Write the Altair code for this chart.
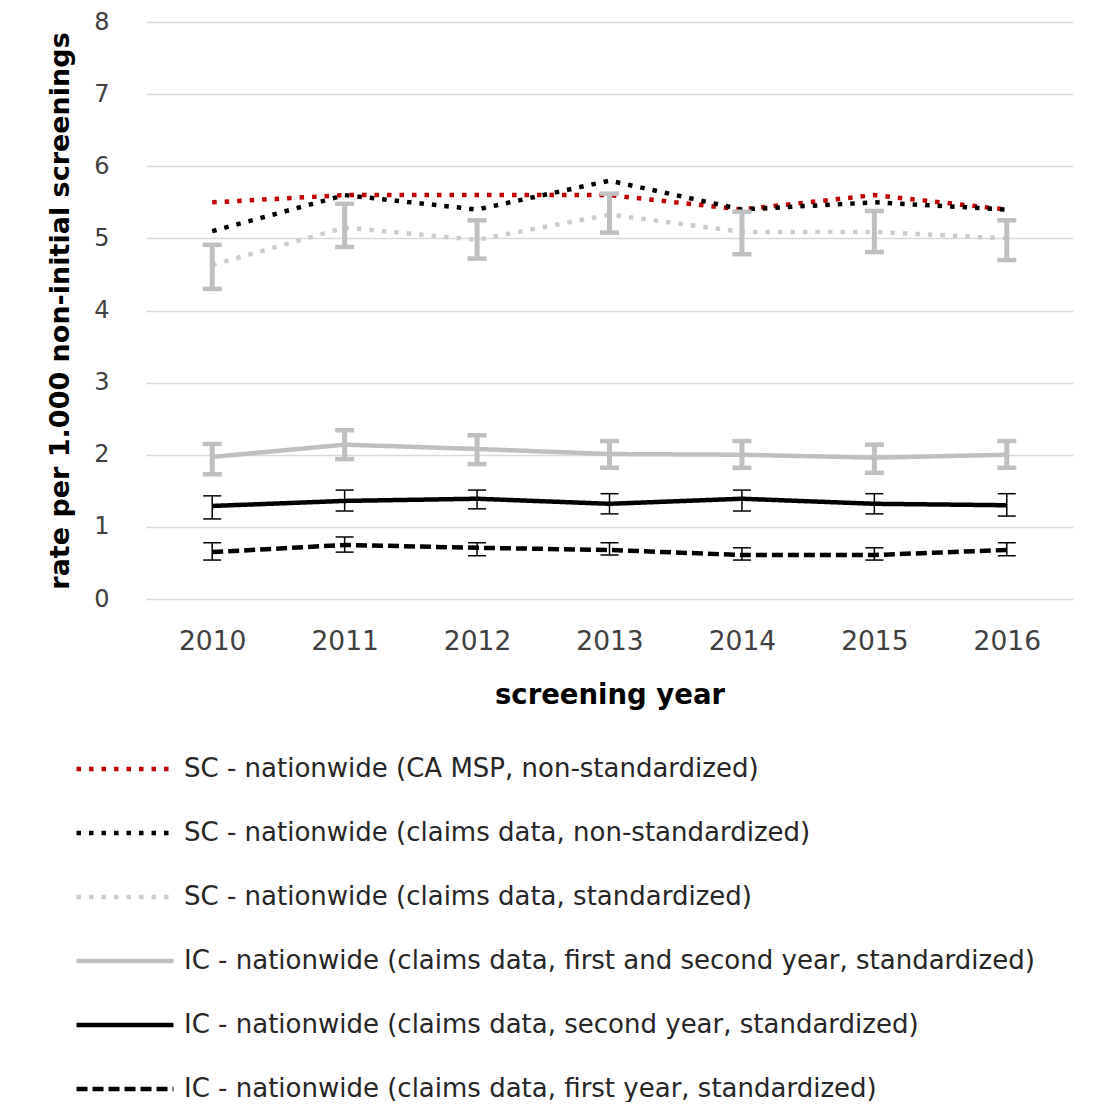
import altair as alt
import pandas as pd

years = ["2010", "2011", "2012", "2013", "2014", "2015", "2016"]
series_names = [
    "SC - nationwide (CA MSP, non-standardized)",
    "SC - nationwide (claims data, non-standardized)",
    "SC - nationwide (claims data, standardized)",
    "IC - nationwide (claims data, first and second year, standardized)",
    "IC - nationwide (claims data, second year, standardized)",
    "IC - nationwide (claims data, first year, standardized)",
]

sc_msp = [5.5, 5.6, 5.6, 5.6, 5.4, 5.6, 5.4]
sc_claims = [5.1, 5.6, 5.4, 5.8, 5.4, 5.5, 5.4]
sc_std = [4.63, 5.15, 4.98, 5.33, 5.09, 5.09, 5.0]
sc_std_lo = [4.30, 4.88, 4.72, 5.08, 4.78, 4.81, 4.70]
sc_std_hi = [4.91, 5.48, 5.25, 5.62, 5.37, 5.38, 5.25]
ic12 = [1.97, 2.14, 2.08, 2.01, 2.0, 1.96, 2.0]
ic12_lo = [1.73, 1.94, 1.87, 1.82, 1.82, 1.75, 1.82]
ic12_hi = [2.15, 2.34, 2.27, 2.19, 2.19, 2.14, 2.19]
ic2 = [1.29, 1.36, 1.39, 1.32, 1.39, 1.32, 1.30]
ic2_lo = [1.11, 1.22, 1.25, 1.18, 1.22, 1.18, 1.15]
ic2_hi = [1.43, 1.51, 1.51, 1.46, 1.51, 1.46, 1.46]
ic1 = [0.65, 0.75, 0.71, 0.68, 0.61, 0.61, 0.68]
ic1_lo = [0.54, 0.65, 0.60, 0.61, 0.54, 0.54, 0.60]
ic1_hi = [0.78, 0.86, 0.78, 0.78, 0.71, 0.71, 0.78]

y_ticks = [0, 1, 2, 3, 4, 5, 6, 7, 8]

rows = []
for name, vals in zip(series_names, [sc_msp, sc_claims, sc_std, ic12, ic2, ic1]):
    for yr, v in zip(years, vals):
        rows.append({"year": yr, "series": name, "rate": v})
lines_df = pd.DataFrame(rows)

err_rows = []
for name, los, his in [
    (series_names[2], sc_std_lo, sc_std_hi),
    (series_names[3], ic12_lo, ic12_hi),
    (series_names[4], ic2_lo, ic2_hi),
    (series_names[5], ic1_lo, ic1_hi),
]:
    for yr, lo, hi in zip(years, los, his):
        err_rows.append({"year": yr, "series": name, "lo": lo, "hi": hi})
err_df = pd.DataFrame(err_rows)

FONT = "DejaVu Sans"
y_title = "rate per 1.000 non-initial screenings"

x_enc = alt.X(
    "year:O",
    scale=alt.Scale(type="point", padding=0.5),
    axis=alt.Axis(
        title="screening year", labelAngle=0, domain=False, ticks=False, grid=False,
        labelFont=FONT, labelFontSize=26.5, labelColor="#404040", labelPadding=29,
        titleFont=FONT, titleFontSize=27.5, titleFontWeight="bold", titleColor="#000000",
        titlePadding=27,
    ),
)
y_axis = alt.Axis(
    title=y_title, values=y_ticks, domain=False, ticks=False, grid=True,
    gridColor="#d9d9d9", gridWidth=1.3,
    labelFont=FONT, labelFontSize=24, labelColor="#404040", labelPadding=37,
    titleFont=FONT, titleFontSize=27, titleFontWeight="bold", titleColor="#000000",
    titlePadding=19,
)
y_scale = alt.Scale(domain=[0, 8], nice=False)

colors = ["#c00000", "#000000", "#cccccc", "#bfbfbf", "#000000", "#000000"]
dashes = [[4.5, 8], [4.5, 8], [4.5, 8], [1, 0], [1, 0], [11, 5]]
widths = [4.5, 4.5, 4.2, 5.5, 3, 3]

legend = alt.Legend(
    orient="none", legendX=-72, legendY=696, direction="vertical", title=None,
    symbolType="stroke", symbolSize=9400, labelFont=FONT, labelFontSize=26,
    labelColor="#262626", labelOffset=8, labelLimit=0, rowPadding=-1.5,
)

lines = alt.Chart(lines_df).mark_line().encode(
    x=x_enc,
    y=alt.Y("rate:Q", scale=y_scale, axis=y_axis),
    color=alt.Color("series:N", scale=alt.Scale(domain=series_names, range=colors), legend=legend),
    strokeDash=alt.StrokeDash("series:N", scale=alt.Scale(domain=series_names, range=dashes), legend=legend),
    strokeWidth=alt.StrokeWidth("series:N", scale=alt.Scale(domain=series_names, range=widths), legend=legend),
)

gray_sel = alt.FieldOneOfPredicate(field="series", oneOf=series_names[2:4])
black_sel = alt.FieldOneOfPredicate(field="series", oneOf=series_names[4:6])

base_err = alt.Chart(err_df)

gray_rule = base_err.transform_filter(gray_sel).mark_rule(color="#bfbfbf", strokeWidth=5).encode(
    x=x_enc, y=alt.Y("lo:Q", scale=y_scale, axis=y_axis), y2="hi:Q"
)
gray_lo = base_err.transform_filter(gray_sel).mark_tick(
    color="#bfbfbf", orient="horizontal", size=19, thickness=4.5, opacity=1
).encode(x=x_enc, y=alt.Y("lo:Q", scale=y_scale, axis=y_axis))
gray_hi = base_err.transform_filter(gray_sel).mark_tick(
    color="#bfbfbf", orient="horizontal", size=19, thickness=4.5, opacity=1
).encode(x=x_enc, y=alt.Y("hi:Q", scale=y_scale, axis=y_axis))

black_rule = base_err.transform_filter(black_sel).mark_rule(color="#000000", strokeWidth=1.5).encode(
    x=x_enc, y=alt.Y("lo:Q", scale=y_scale, axis=y_axis), y2="hi:Q"
)
black_lo = base_err.transform_filter(black_sel).mark_tick(
    color="#000000", orient="horizontal", size=18, thickness=1.5, opacity=1
).encode(x=x_enc, y=alt.Y("lo:Q", scale=y_scale, axis=y_axis))
black_hi = base_err.transform_filter(black_sel).mark_tick(
    color="#000000", orient="horizontal", size=18, thickness=1.5, opacity=1
).encode(x=x_enc, y=alt.Y("hi:Q", scale=y_scale, axis=y_axis))

chart = alt.layer(
    lines, gray_rule, gray_lo, gray_hi, black_rule, black_lo, black_hi
).properties(
    width=927, height=577,
    padding={"left": 38, "top": 2, "right": 5, "bottom": 0},
    background="#ffffff",
).configure_view(stroke=None)

chart.save("out.html", embed_options={"renderer": "svg", "actions": False})
